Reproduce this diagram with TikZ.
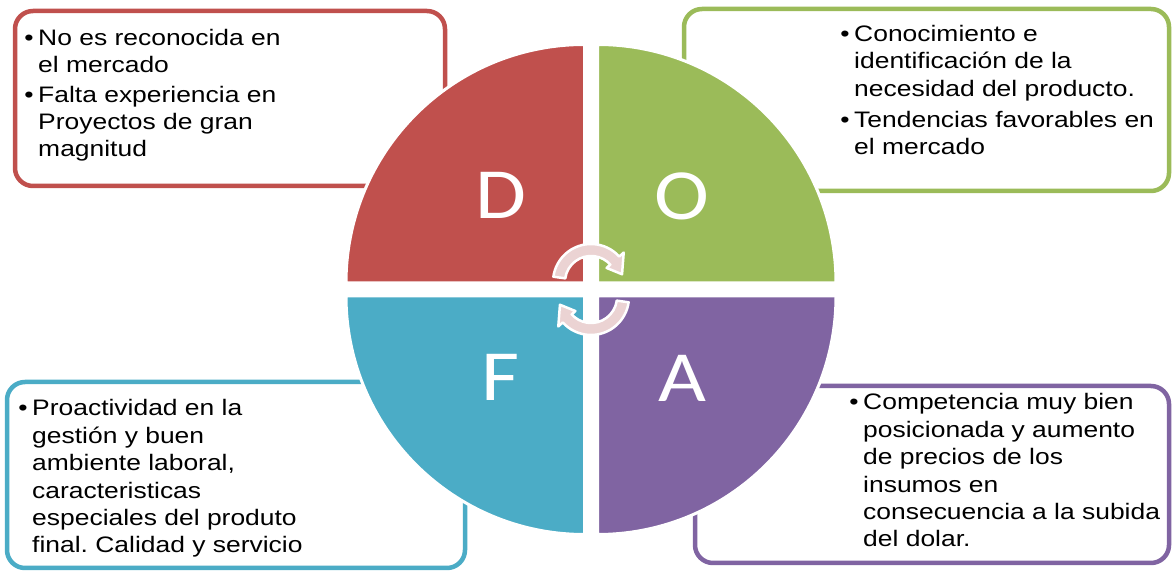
\documentclass[tikz,border=0pt]{standalone}
\usepackage{fontspec}
\setmainfont{Liberation Sans}
\newfontfamily\carlito{Carlito}
\frenchspacing
\definecolor{dcolor}{HTML}{C0504D}
\definecolor{ocolor}{HTML}{9BBB59}
\definecolor{fcolor}{HTML}{4BACC6}
\definecolor{acolor}{HTML}{8064A2}
\definecolor{arrowpink}{HTML}{EBD3D3}
\tikzset{
  infobox/.style={line width=4.5pt, rounded corners=18pt, fill=white},
  quarter/.style={draw=white, line width=3pt},
  letter/.style={font=\carlito\fontsize{72}{72}\selectfont, text=white,
                 xscale=1.15, transform shape},
  txt/.style={font=\fontsize{22.4}{27.4}\selectfont, align=left,
              inner sep=0pt, anchor=base west, xscale=1.18, transform shape},
  turn/.style={fill=arrowpink, draw=white, line width=2.5pt, line join=round},
}
\newcommand\itm{\llap{\textbullet\hspace{4pt}}}
\newcommand\turnarrow{%
  \filldraw[turn] (172:26) arc[start angle=172, end angle=42, radius=26]
    -- (42:21) -- (14:32) -- (42:44) -- (42:38)
    arc[start angle=42, end angle=172, radius=38] -- cycle;}

\begin{document}
\begin{tikzpicture}[x=1pt, y=1pt]
    \useasboundingbox (0,0) rectangle (1172,572);
    % text boxes behind the circle
    \draw[infobox, draw=dcolor] (15,561) rectangle (445,386);
    \draw[infobox, draw=ocolor] (684,563) rectangle (1169,381);
    \draw[infobox, draw=fcolor] (7,190) rectangle (465,4);
    \draw[infobox, draw=acolor] (695,186) rectangle (1169,9);
    % quarters
    \filldraw[quarter, fill=dcolor] (584.5,289) -- ++(-238.5,0) arc[start angle=180, end angle=90, radius=238.5] -- cycle;
    \filldraw[quarter, fill=ocolor] (597.5,289) -- ++(238.5,0) arc[start angle=0, end angle=90, radius=238.5] -- cycle;
    \filldraw[quarter, fill=fcolor] (584.5,276) -- ++(-238.5,0) arc[start angle=180, end angle=270, radius=238.5] -- cycle;
    \filldraw[quarter, fill=acolor] (597.5,276) -- ++(238.5,0) arc[start angle=0, end angle=-90, radius=238.5] -- cycle;
    \node[letter] (dl) at (501,377) {D};
    \node[letter] (ol) at (682,376) {O};
    \node[letter] (fl) at (500.5,194.5) {F};
    \node[letter] (al) at (682,194) {A};
    % cycle arrows
    \begin{scope}[shift={(591,290)}]
      \turnarrow
    \end{scope}
    \begin{scope}[shift={(591,275)}, rotate=180]
      \turnarrow
    \end{scope}
    % texts (placed at the baseline of their last line)
    \node[txt] (dtext) at (38,415) {\itm No es reconocida en\\el mercado\\[2pt]
      \itm Falta experiencia en\\Proyectos de gran\\magnitud};
    \node[txt] (otext) at (854,417) {\itm Conocimiento e\\identificación de la\\necesidad del producto.\\[4pt]
      \itm Tendencias favorables en\\el mercado};
    \node[txt] (ftext) at (32,19) {\itm Proactividad en la\\gestión y buen\\ambiente laboral,\\caracteristicas\\especiales del produto\\final. Calidad y servicio};
    \node[txt] (atext) at (863,25) {\itm Competencia muy bien\\posicionada y aumento\\de precios de los\\insumos en\\consecuencia a la subida\\del dolar.};
\end{tikzpicture}
\end{document}
